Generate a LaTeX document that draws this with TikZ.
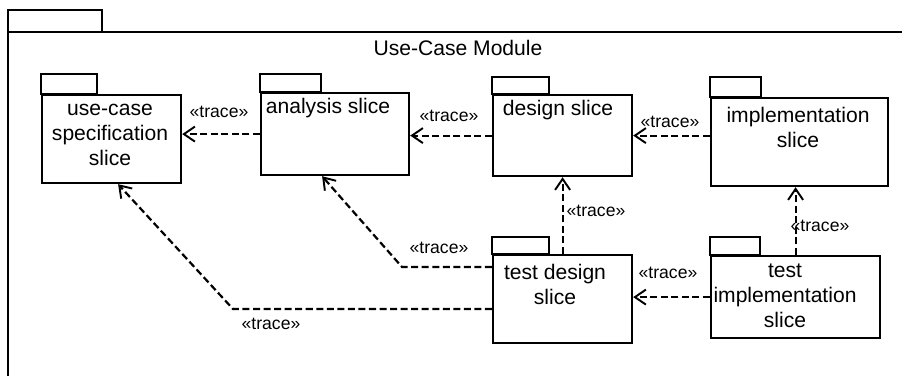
\documentclass[tikz,border=0pt]{standalone}
\usepackage{fontspec}
\setmainfont{Liberation Sans}
\usetikzlibrary{arrows.meta}

\tikzset{
    slice/.style={draw, line width=1.25pt, anchor=north west, inner sep=0pt},
    tab/.style={draw, line width=1.25pt},
    slicetext/.style={align=center, font=\fontsize{12}{14.2}\selectfont},
    stereo/.style={font=\fontsize{10}{12}\selectfont, inner sep=1pt},
    trace/.style={line width=1.25pt, dash pattern=on 4pt off 2pt,
        -{Straight Barb[length=2.2mm,width=3mm,line width=1.1pt]}}
}

\begin{document}
\begin{tikzpicture}
            \useasboundingbox (0,0) rectangle (18.04,7.52);

            % module frame
            \draw[tab] (0.16,6.88) rectangle (2.04,7.32);
            \draw[tab] (0.16,0) -- (0.16,6.88) -- (18.04,6.88);
            \node[slicetext] at (9.16,6.56) (title) {Use-Case Module};

            % slices
            \node[slice, minimum width=2.78cm, minimum height=1.76cm] at (0.82,5.64) (ucs) {};
            \draw[tab] (ucs.north west) rectangle ++(1.12,0.40);
            \node[slicetext] at (2.20,4.82) (ucs-t) {use-case\\specification\\slice};

            \node[slice, minimum width=2.96cm, minimum height=1.64cm] at (5.20,5.68) (ana) {};
            \draw[tab] (ana.north west) rectangle ++(1.22,0.36);
            \node[slicetext] at (6.56,5.36) (ana-t) {analysis slice};

            \node[slice, minimum width=2.78cm, minimum height=1.62cm] at (9.84,5.64) (des) {};
            \draw[tab] (des.north west) rectangle ++(1.14,0.34);
            \node[slicetext] at (11.16,5.32) (des-t) {design slice};

            \node[slice, minimum width=3.54cm, minimum height=1.76cm] at (14.20,5.58) (imp) {};
            \draw[tab] (imp.north west) rectangle ++(1.02,0.40);
            \node[slicetext] at (15.96,4.98) (imp-t) {implementation\\slice};

            \node[slice, minimum width=2.78cm, minimum height=1.76cm] at (9.84,2.44) (tds) {};
            \draw[tab] (tds.north west) rectangle ++(1.14,0.34);
            \node[slicetext] at (11.10,1.84) (tds-t) {test design\\slice};

            \node[slice, minimum width=3.38cm, minimum height=1.64cm] at (14.20,2.42) (tim) {};
            \draw[tab] (tim.north west) rectangle ++(1.00,0.36);
            \node[slicetext] at (15.70,1.60) (tim-t) {test\\implementation\\slice};

            % bends
            \coordinate (b1) at (8.04,2.18);
            \coordinate (b2) at (4.66,1.34);

            % traces
            \draw[trace] (ana.west) -- (ana.west -| ucs.east);
            \draw[trace] (des.west) -- (des.west -| ana.east);
            \draw[trace] (imp.west |- des.east) -- (des.east);
            \draw[trace] (tds.north) -- (des.south);
            \draw[trace] (tim.north) -- (tim.north |- imp.south);
            \draw[trace] (tim.west) -- (tim.west -| tds.east);
            \draw[trace] (tds.west |- b1) -- (b1) -- ([xshift=-0.26cm]ana.south);
            \draw[trace] (tds.west |- b2) -- (b2) -- ([xshift=0.13cm]ucs.south);

            \node[stereo] at (4.38,5.28) (l1) {«trace»};
            \node[stereo] at (8.98,5.20) (l2) {«trace»};
            \node[stereo] at (13.40,5.08) (l3) {«trace»};
            \node[stereo] at (11.92,3.30) (l4) {«trace»};
            \node[stereo] at (16.40,3.00) (l5) {«trace»};
            \node[stereo] at (13.36,2.06) (l6) {«trace»};
            \node[stereo] at (8.78,2.56) (l7) {«trace»};
            \node[stereo] at (5.42,1.04) (l8) {«trace»};
        \end{tikzpicture}
\end{document}
